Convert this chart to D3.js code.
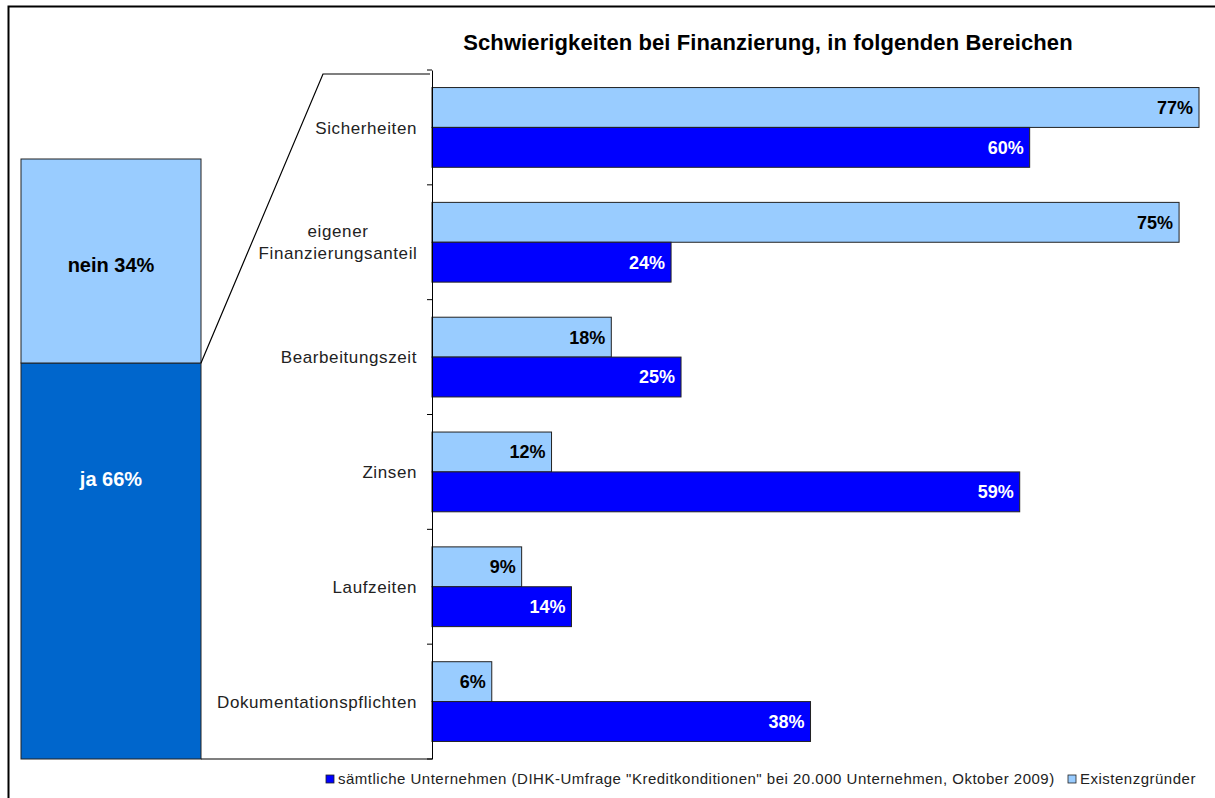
<!DOCTYPE html>
<html><head><meta charset="utf-8">
<script src="https://cdn.jsdelivr.net/npm/d3@7"></script>
<style>
html,body{margin:0;padding:0;background:#fff;}
svg{display:block;font-family:"Liberation Sans",Arial,sans-serif;}
</style></head>
<body><svg id="c" width="1215" height="798"></svg>
<script>
const title = "Schwierigkeiten bei Finanzierung, in folgenden Bereichen";
const categories = ["Sicherheiten", "eigener\nFinanzierungsanteil", "Bearbeitungszeit", "Zinsen", "Laufzeiten", "Dokumentationspflichten"];
const existenzgruender = [77, 75, 18, 12, 9, 6];
const saemtliche = [60, 24, 25, 59, 14, 38];
const seriesNames = ["sämtliche Unternehmen (DIHK-Umfrage \"Kreditkonditionen\" bei 20.000 Unternehmen, Oktober 2009)", "Existenzgründer"];
const pieLabels = ["ja", "nein"];
const pieValues = [66, 34];

const colLight = "#99CCFF", colDark = "#0000FF", colJa = "#0066CC";
const svg = d3.select("#c");

// outer frame
svg.append("rect").attr("x", 8.5).attr("y", 6.5).attr("width", 1230).attr("height", 820)
  .attr("fill", "none").attr("stroke", "#000").attr("stroke-width", 2);

// title
svg.append("text").attr("x", 768).attr("y", 50).attr("text-anchor", "middle")
  .attr("font-size", 22).attr("letter-spacing", 0.1).attr("font-weight", "bold").attr("fill", "#000").text(title);

// scales
const x = d3.scaleLinear().domain([0, 77]).range([432, 1199]);
const y0 = d3.scaleBand().domain(d3.range(categories.length)).range([70, 759]).padding(0);
const y1 = d3.scaleBand().domain(["ex", "all"]).range([0, y0.bandwidth()]).paddingInner(0).paddingOuter(0.44);

// left stacked bar
const yL = d3.scaleLinear().domain([0, 100]).range([759, 159]);
const leftX0 = 21, leftX1 = 201;
let acc = 0;
const stack = pieValues.map((v, i) => { const s = { label: pieLabels[i], v, a: acc, b: acc + v }; acc += v; return s; });
svg.selectAll("rect.left").data(stack).join("rect")
  .attr("x", leftX0).attr("width", leftX1 - leftX0)
  .attr("y", d => yL(d.b)).attr("height", d => yL(d.a) - yL(d.b))
  .attr("fill", (d, i) => i === 0 ? colJa : colLight)
  .attr("stroke", "#222").attr("stroke-width", 1);
const labelOffsets = [116, 106];
svg.selectAll("text.left").data(stack).join("text")
  .attr("x", (leftX0 + leftX1) / 2).attr("y", (d, i) => yL(d.b) + labelOffsets[i])
  .attr("dy", "0.36em").attr("text-anchor", "middle")
  .attr("font-size", 20).attr("font-weight", "bold")
  .attr("fill", (d, i) => i === 0 ? "#fff" : "#000")
  .text(d => d.label + " " + d.v + "%");

// connector lines
const topConn = y0.range()[0] + 4;
svg.append("path")
  .attr("d", `M${leftX1},${yL(66)} L323,${topConn} L430,${topConn}`)
  .attr("fill", "none").attr("stroke", "#000").attr("stroke-width", 1.2);
svg.append("path")
  .attr("d", `M${leftX1},${yL(0)} L${x(0)},${yL(0)}`)
  .attr("fill", "none").attr("stroke", "#000").attr("stroke-width", 1.2);

// bars
const g = svg.append("g");
categories.forEach((c, i) => {
  const by = y0(i);
  const rows = [{ k: "ex", v: existenzgruender[i], fill: colLight, tc: "#000" },
                { k: "all", v: saemtliche[i], fill: colDark, tc: "#fff" }];
  rows.forEach(r => {
    g.append("rect").attr("x", x(0)).attr("y", by + y1(r.k))
      .attr("width", x(r.v) - x(0)).attr("height", y1.bandwidth())
      .attr("fill", r.fill).attr("stroke", "#222").attr("stroke-width", 1);
    g.append("text").attr("x", x(r.v) - 6).attr("y", by + y1(r.k) + y1.bandwidth() / 2)
      .attr("dy", "0.36em").attr("text-anchor", "end")
      .attr("font-size", 18).attr("font-weight", "bold").attr("fill", r.tc)
      .text(r.v + "%");
  });
});

// axis
const axis = d3.axisLeft(y0).tickSize(0).tickFormat("");
const ag = svg.append("g").attr("transform", `translate(${x(0)},0)`).call(axis);
ag.select(".domain").attr("stroke", "#000");
const bounds = d3.range(categories.length + 1).map(i => y0.range()[0] + i * y0.step());
svg.selectAll("line.tk").data(bounds).join("line")
  .attr("x1", x(0) - 5).attr("x2", x(0)).attr("y1", d => d).attr("y2", d => d)
  .attr("stroke", "#000");

// category labels
categories.forEach((c, i) => {
  const lines = c.split("\n");
  const cy = y0(i) + y0.bandwidth() / 2;
  const t = svg.append("text").attr("font-size", 17).attr("letter-spacing", 0.6).attr("fill", "#222");
  if (lines.length === 1) {
    t.attr("x", 417).attr("y", cy).attr("dy", "0.36em").attr("text-anchor", "end").text(c);
  } else {
    t.attr("text-anchor", "middle");
    lines.forEach((l, j) => {
      t.append("tspan").attr("x", 338).attr("y", cy + (j - (lines.length - 1) / 2) * 22).attr("dy", "0.36em").text(l);
    });
  }
});

// legend
const leg = svg.append("g").attr("font-size", 15).attr("letter-spacing", 0.5).attr("fill", "#222");
const legItems = [{ n: seriesNames[0], c: colDark, x: 326 }, { n: seriesNames[1], c: colLight, x: 1068 }];
legItems.forEach(d => {
  leg.append("rect").attr("x", d.x).attr("y", 775).attr("width", 8).attr("height", 8)
    .attr("fill", d.c).attr("stroke", "#222").attr("stroke-width", 0.8);
  leg.append("text").attr("x", d.x + 12).attr("y", 779).attr("dy", "0.36em").text(d.n);
});
</script></body></html>
